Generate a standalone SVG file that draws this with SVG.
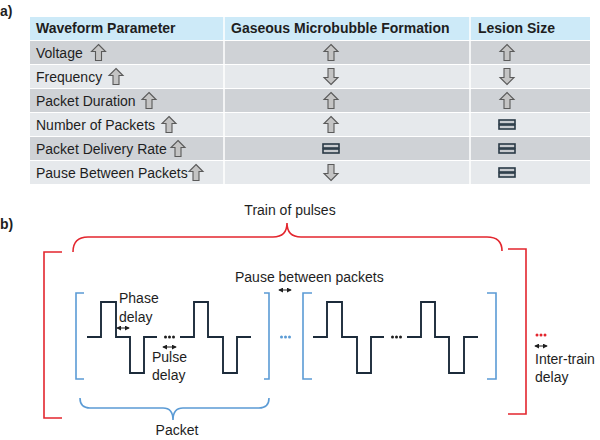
<svg xmlns="http://www.w3.org/2000/svg" width="600" height="440" viewBox="0 0 600 440">
<defs>
<style>
text{font-family:"Liberation Sans",Arial,sans-serif;fill:#1e1e1e;font-size:14px}
.b{font-weight:bold}
.hd{font-weight:bold;font-size:14px}
.dark{fill:#cfd2d6}
.light{fill:#e6e9ec}
.arw{fill:#c4c4c4;stroke:#5a5a5a;stroke-width:1.1;stroke-linejoin:miter}
.eq{fill:#c8cbcf;stroke:#2a3a46;stroke-width:1.6}
.red{fill:none;stroke:#e3262e;stroke-width:1.6}
.blue{fill:none;stroke:#5b9bd5;stroke-width:1.6}
.wave{fill:none;stroke:#1c2b3a;stroke-width:1.9}
.dbl{stroke:#1e1e1e;stroke-width:1;marker-start:url(#ah);marker-end:url(#ah)}
</style>
<marker id="ah" viewBox="0 0 6 6" refX="5" refY="3" markerWidth="5" markerHeight="5" orient="auto-start-reverse" markerUnits="userSpaceOnUse"><path d="M0,0 L6,3 L0,6 z" fill="#1e1e1e"/></marker>
<path id="up" class="arw" d="M0,-8 L7,-1 L3,-1 L3,8 L-3,8 L-3,-1 L-7,-1 Z"/>
<path id="dn" class="arw" d="M0,8 L7,1 L3,1 L3,-8 L-3,-8 L-3,1 L-7,1 Z"/>
<g id="eqi"><rect class="eq" x="-8" y="-4.5" width="16" height="4"/><rect class="eq" x="-8" y="0.5" width="16" height="4"/></g>
</defs>
<rect width="600" height="440" fill="#fff"/>

<text class="b" x="0" y="16">a)</text>

<g id="table">
<rect x="30" y="17" width="560" height="23" fill="#cdeaf8"/>
<rect class="dark" x="30" y="41" width="560" height="23"/>
<rect class="light" x="30" y="65" width="560" height="23"/>
<rect class="dark" x="30" y="89" width="560" height="23"/>
<rect class="light" x="30" y="113" width="560" height="23"/>
<rect class="dark" x="30" y="137" width="560" height="23"/>
<rect class="light" x="30" y="161" width="560" height="23"/>
<line x1="224" y1="17" x2="224" y2="184" stroke="#fff" stroke-width="1.5"/>
<line x1="470" y1="17" x2="470" y2="184" stroke="#fff" stroke-width="1.5"/>
<text class="hd" x="36" y="33">Waveform Parameter</text>
<text class="hd" x="231" y="33">Gaseous Microbubble Formation</text>
<text class="hd" x="478" y="33">Lesion Size</text>

<text x="36" y="58">Voltage</text>
<text x="36" y="82">Frequency</text>
<text x="36" y="106">Packet Duration</text>
<text x="36" y="130">Number of Packets</text>
<text x="36" y="154">Packet Delivery Rate</text>
<text x="36" y="178">Pause Between Packets</text>

<use href="#up" x="98.5" y="52.5"/>
<use href="#up" x="116" y="76.5"/>
<use href="#up" x="149" y="100.5"/>
<use href="#up" x="169" y="124.5"/>
<use href="#up" x="178" y="148.5"/>
<use href="#up" x="196" y="172.5"/>

<use href="#up" x="331" y="52.5"/>
<use href="#dn" x="331" y="76.5"/>
<use href="#up" x="331" y="100.5"/>
<use href="#up" x="331" y="124.5"/>
<use href="#eqi" x="331" y="148.5"/>
<use href="#dn" x="331" y="172.5"/>

<use href="#up" x="507" y="52.5"/>
<use href="#dn" x="507" y="76.5"/>
<use href="#up" x="507" y="100.5"/>
<use href="#eqi" x="507" y="124.5"/>
<use href="#eqi" x="507" y="148.5"/>
<use href="#eqi" x="507" y="172.5"/>
</g>

<text class="b" x="0" y="229">b)</text>

<g id="train">
<text x="290" y="215" text-anchor="middle">Train of pulses</text>
<path class="red" d="M73,252 Q73,237 88,237 L273,237 Q287,237 287,223 Q287,237 301,237 L487,237 Q502,237 502,251"/>
<path class="red" d="M62,252 L44,252 L44,418 L62,418"/>
<path class="red" d="M508,249 L526,249 L526,414 L508,414"/>
</g>

<g id="packet1">
<path class="blue" d="M84,293 L76,293 L76,379 L84,379"/>
<path class="blue" d="M264,293 L269,293 L269,379 L264,379"/>
<path class="wave" d="M87,337 L101,337 L101,302 L116,302 L116,337 L130,337 L130,373 L144,373 L144,337 L157,337"/>
<path class="wave" d="M180,337 L194,337 L194,302 L208,302 L208,337 L223,337 L223,373 L237,373 L237,337 L251,337"/>
<g fill="#1e1e1e"><circle cx="165.5" cy="337" r="1.5"/><circle cx="169.5" cy="337" r="1.5"/><circle cx="173.5" cy="337" r="1.5"/></g>
</g>

<g id="packet2">
<path class="blue" d="M312,293 L303,293 L303,379 L312,379"/>
<path class="blue" d="M487,293 L496,293 L496,379 L487,379"/>
<path class="wave" d="M313,337 L327,337 L327,302 L342,302 L342,337 L357,337 L357,373 L371,373 L371,337 L384,337"/>
<path class="wave" d="M407,337 L421,337 L421,302 L435,302 L435,337 L449,337 L449,373 L464,373 L464,337 L478,337"/>
<g fill="#1e1e1e"><circle cx="392.5" cy="337" r="1.5"/><circle cx="396.5" cy="337" r="1.5"/><circle cx="400.5" cy="337" r="1.5"/></g>
</g>

<g id="packet-brace">
<path class="blue" d="M80,398 Q80,408 90,408 L163,408 Q173,408 173,420 Q173,408 183,408 L259,408 Q269,408 269,398"/>
<text x="177" y="435" text-anchor="middle">Packet</text>
</g>

<g id="labels">
<text x="119" y="303">Phase</text>
<text x="119" y="322">delay</text>
<line class="dbl" x1="117" y1="328" x2="129" y2="328"/>
<line class="dbl" x1="163" y1="347" x2="176" y2="347"/>
<text x="152" y="362">Pulse</text>
<text x="152" y="380">delay</text>
<text x="235" y="282">Pause between packets</text>
<line class="dbl" x1="279" y1="290" x2="291" y2="290"/>
<g fill="#5b9bd5"><circle cx="281.5" cy="337" r="1.5"/><circle cx="285.5" cy="337" r="1.5"/><circle cx="289.5" cy="337" r="1.5"/></g>
<g fill="#e3262e"><circle cx="537" cy="335" r="1.5"/><circle cx="541" cy="335" r="1.5"/><circle cx="545" cy="335" r="1.5"/></g>
<line class="dbl" x1="535" y1="346" x2="547" y2="346"/>
<text x="535" y="364">Inter-train</text>
<text x="535" y="382">delay</text>
</g>
</svg>
